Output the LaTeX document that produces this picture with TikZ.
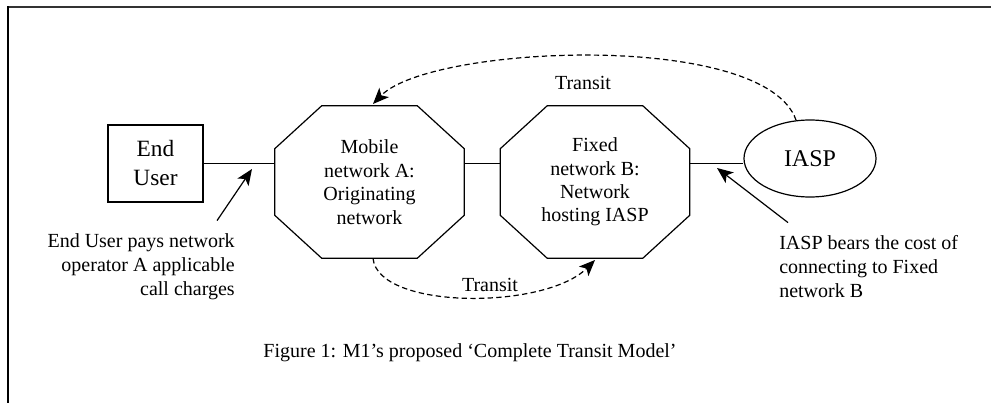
\documentclass[tikz,border=0pt]{standalone}
\usepackage{fontspec}
\setmainfont{Liberation Serif}
\usetikzlibrary{
  arrows.meta,
  positioning,
  shapes.geometric
}

\begin{document}
\begin{tikzpicture}[x=0.75pt, y=-0.75pt,
    every node/.style={font=\fontsize{15}{18}\selectfont},
    link/.style={line width=0.9pt},
    net/.style={minimum width=141.75pt, minimum height=114pt, align=center, inner sep=0pt,
      font=\fontsize{15}{17.6}\selectfont},
    pointer/.style={line width=0.9pt, -{Stealth[length=12pt, width=10pt, inset=3pt]}},
    transit/.style={pointer, dash pattern=on 4pt off 2.5pt},
    note/.style={inner sep=0pt, align=left}]
  \useasboundingbox (0,0) rectangle (991,403);

  % Frame
  \draw[line width=1.6pt, black!80] (8,7) -- (991,7);
  \draw[line width=1.1pt] (8,6.5) -- (8,403);

  % Parties
  \node[draw, line width=0.9pt, minimum width=71.25pt, minimum height=57.75pt, align=center,
    font=\fontsize{17.5}{21.75}\selectfont] (enduser) at (155.5,163.5) {End\\User};
  \node[net] (mobA) at (369.5,182) {Mobile\\network A:\\Originating\\network};
  \node[net] (fixB) at (595,182) {Fixed\\network B:\\Network\\hosting IASP};
  \node[draw, ellipse, line width=0.9pt, minimum width=99pt, minimum height=57.75pt, inner sep=0pt,
    font=\fontsize{18}{21}\selectfont] (iasp) at (810,158.5) {IASP};

  % Octagon outlines of the two networks
  \foreach \nw in {mobA,fixB}
    \draw[link] ([xshift=35.25pt]\nw.north west) -- ([xshift=-35.25pt]\nw.north east)
      -- ([yshift=-32.25pt]\nw.north east) -- ([yshift=32.25pt]\nw.south east)
      -- ([xshift=-35.25pt]\nw.south east) -- ([xshift=35.25pt]\nw.south west)
      -- ([yshift=32.25pt]\nw.south west) -- ([yshift=-32.25pt]\nw.north west) -- cycle;

  % Interconnects
  \draw[link] (enduser.east) -- (enduser.east -| mobA.west);
  \draw[link] (enduser.east -| mobA.east) -- (enduser.east -| fixB.west);
  \draw[link] (enduser.east -| fixB.east) -- (enduser.east -| iasp.west);

  % Charging notes
  \node[note, align=right, anchor=east] (payNote) at (235,267) {End User pays network\\operator A applicable\\call charges};
  \node[note, anchor=west] (costNote) at (779,267) {IASP bears the cost of\\connecting to Fixed\\network B};
  \coordinate (payTip) at (252,169);
  \coordinate (costTip) at (717,168);
  \draw[pointer] (payNote.north east) ++(-18,-13) -- (payTip);
  \draw[pointer] (costNote.north west) ++(9,-13) -- (costTip);

  % Transit paths
  \coordinate (topTip) at (373,104);
  \coordinate (botTip) at (595,260);
  \draw[transit] (iasp.110) .. controls (765,30) and (430,45) .. (topTip);
  \draw[transit] (mobA.south) ++(3.5,0) .. controls (378,310) and (545,310) .. (botTip);
  \node (transitTop) at (583,83) {Transit};
  \node (transitBot) at (490,285) {Transit};

  % Caption
  \node (caption) at (470,353) {Figure 1: M1’s proposed ‘Complete Transit Model’};
\end{tikzpicture}
\end{document}
